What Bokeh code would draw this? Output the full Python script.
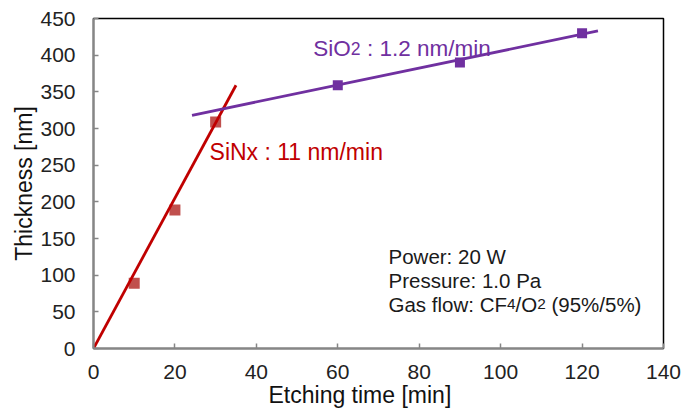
import math
from bokeh.plotting import figure
from bokeh.models import Label, Range1d, Title
from bokeh.embed import file_html
from bokeh.resources import INLINE

# ---- data ----
sinx_time = [10, 20, 30]
sinx_thick = [89, 189, 309]
sio2_time = [60, 90, 120]
sio2_thick = [359, 390, 430]
sinx_fit_time = [0, 35]
sinx_fit_thick = [0, 359]
sio2_fit_time = [24.2, 123.9]
sio2_fit_thick = [318, 433]
x_ticks = [0, 20, 40, 60, 80, 100, 120, 140]
y_ticks = [0, 50, 100, 150, 200, 250, 300, 350, 400, 450]

FONT = "Liberation Sans"
AXIS_GRAY = "#868686"

p = figure(width=697, height=412, x_range=Range1d(0, 140), y_range=Range1d(0, 450),
           output_backend="svg", toolbar_location=None,
           min_border_left=93, min_border_right=34, min_border_top=18, min_border_bottom=64)
p.background_fill_color = "white"
p.border_fill_color = "white"
p.xgrid.visible = False
p.ygrid.visible = False
p.outline_line_color = "black"
p.outline_line_width = 1.5

for ax, ticks in ((p.xaxis, x_ticks), (p.yaxis, y_ticks)):
    ax.ticker = ticks
    ax.axis_line_color = AXIS_GRAY
    ax.axis_line_width = 2
    ax.major_tick_line_color = AXIS_GRAY
    ax.major_tick_line_width = 1.5
    ax.major_tick_in = 5
    ax.major_tick_out = 0
    ax.minor_tick_line_color = None
    ax.major_label_text_font = FONT
    ax.major_label_text_font_size = "21px"
    ax.major_label_text_color = "#222222"
p.xaxis.major_label_standoff = 16
p.yaxis.major_label_standoff = 18

p.yaxis.axis_label = "Thickness [nm]"
p.yaxis.axis_label_text_font = FONT
p.yaxis.axis_label_text_font_size = "23px"
p.yaxis.axis_label_text_font_style = "normal"
p.yaxis.axis_label_text_color = "#111111"
p.yaxis.axis_label_standoff = 0

# x-axis title (slightly left of the frame centre, as in the reference)
p.add_layout(Title(text="Etching time [min]", align="left", offset=175, standoff=-3,
                   text_font=FONT, text_font_size="23px", text_font_style="normal",
                   text_color="#111111"), "below")

# markers
p.scatter(sinx_time, sinx_thick, marker="square", size=11, fill_color="#c0504d",
          line_color=None)
p.scatter(sio2_time, sio2_thick, marker="square", size=10, fill_color="#7030a0",
          line_color=None)
# fit lines
p.line(sinx_fit_time, sinx_fit_thick, line_color="#c00000", line_width=2.8)
p.line(sio2_fit_time, sio2_fit_thick, line_color="#7030a0", line_width=2.8)

# Arial / Liberation Sans advance widths (per 1000 em)
W = {' ': 278, '%': 889, '(': 333, ')': 333, '.': 278, '/': 278, ':': 278,
     '[': 278, ']': 278, 'C': 722, 'F': 611, 'G': 778, 'N': 722, 'O': 778,
     'P': 667, 'S': 667, 'W': 944, 'T': 611, 'E': 667,
     'a': 556, 'c': 500, 'e': 556, 'f': 278, 'g': 556, 'h': 556, 'i': 222,
     'k': 500, 'l': 222, 'm': 833, 'n': 556, 'o': 556, 'r': 333, 's': 500,
     't': 278, 'u': 556, 'w': 722, 'x': 500}
for d in "0123456789":
    W[d] = 556


def tw(s, size):
    return sum(W.get(c, 556) for c in s) / 1000.0 * size


def rich(x, y, segments, color, size):
    off = 0.0
    for txt, fac in segments:
        fs = size * fac
        stripped = txt.lstrip(' ')
        off += tw(txt[:len(txt) - len(stripped)], fs)
        p.add_layout(Label(x=x, y=y, x_offset=off, text=stripped, text_font=FONT,
                           text_font_size=f"{fs:.1f}px", text_color=color,
                           text_baseline="alphabetic", text_align="left"))
        off += tw(stripped, fs)


rich(28.5, 267.7, [("SiNx : 11 nm/min", 1.0)], "#c00000", 23)
rich(54.0, 409.7, [("SiO", 1.0), ("2", 0.78), (" : 1.2 nm/min", 1.0)], "#7030a0", 22.5)
rich(72.46, 125.6, [("Power: 20 W", 1.0)], "#1a1a1a", 20.5)
rich(72.46, 92.9, [("Pressure: 1.0 Pa", 1.0)], "#1a1a1a", 20.5)
rich(72.46, 60.1, [("Gas flow: CF", 1.0), ("4", 0.75), ("/O", 1.0), ("2", 0.75),
                   (" (95%/5%)", 1.0)], "#1a1a1a", 20.5)

open("out.html", "w").write(file_html(p, INLINE))
